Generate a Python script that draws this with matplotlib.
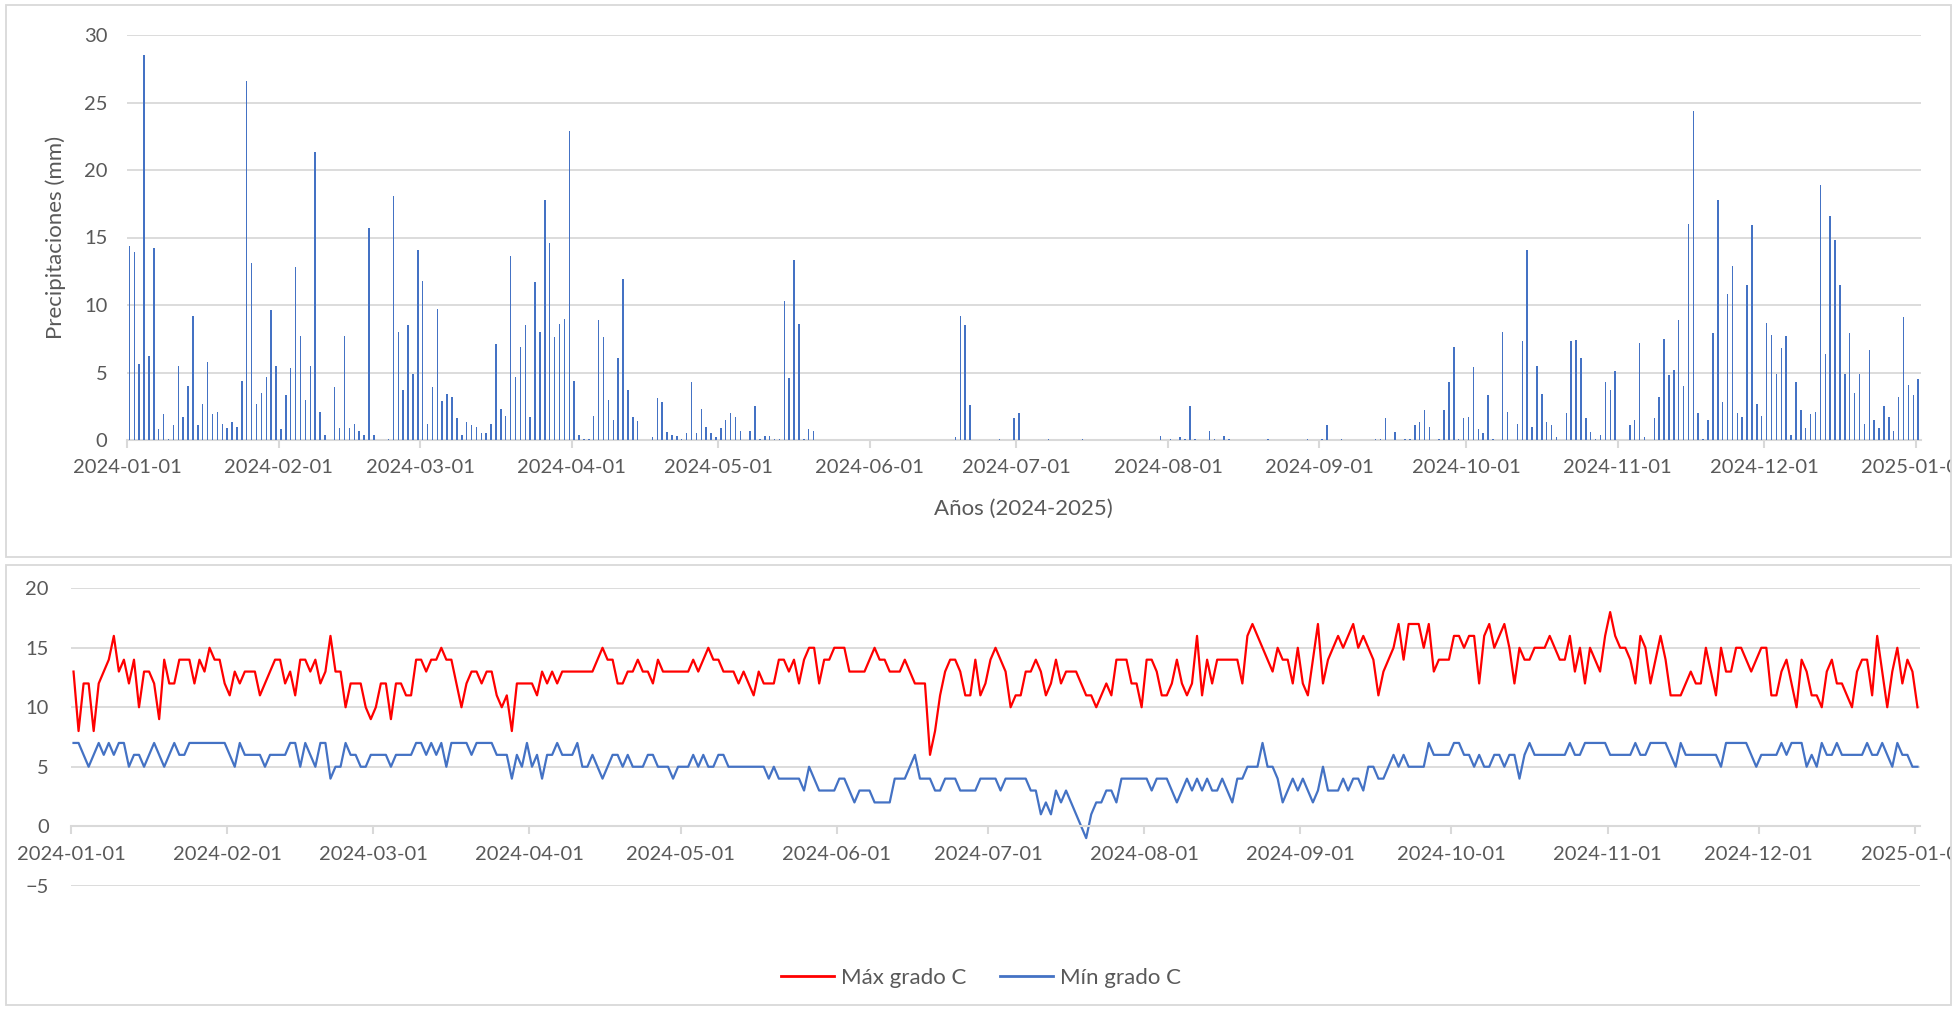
import matplotlib
matplotlib.use("Agg")
import matplotlib.pyplot as plt
import matplotlib.dates as mdates
import pandas as pd
from matplotlib.patches import Rectangle
from matplotlib.lines import Line2D
from matplotlib.transforms import Bbox, TransformedBbox

# datos diarios 2024-01-01 .. 2025-01-01
fechas = pd.date_range("2024-01-01", "2025-01-01", freq="D")

precip = [
    14.4, 13.9, 5.6, 28.5, 6.2, 14.2, 0.8, 1.9, 0.05, 1.1, 5.5, 1.7, 4.0, 9.2, 1.1, 2.7, 5.8, 1.9, 2.1, 1.2, 0.9, 1.3, 1.0, 4.4, 26.6, 13.1, 2.7, 3.5, 4.7, 9.6, 5.5,
    0.8, 3.3, 5.3, 12.8, 7.7, 3.0, 5.5, 21.3, 2.1, 0.4, 0, 3.9, 0.9, 7.7, 0.9, 1.2, 0.7, 0.4, 15.7, 0.4, 0, 0, 0.05, 18.1, 8.0, 3.7, 8.5, 4.9, 14.1,
    11.8, 1.2, 3.9, 9.7, 2.9, 3.4, 3.2, 1.6, 0.4, 1.3, 1.1, 1.0, 0.5, 0.5, 1.2, 7.1, 2.3, 1.8, 13.6, 4.7, 6.9, 8.5, 1.7, 11.7, 8.0, 17.8, 14.6, 7.6, 8.6, 9.0, 22.9,
    4.4, 0.4, 0.1, 0.05, 1.8, 8.9, 7.6, 3.0, 1.5, 6.1, 11.95, 3.7, 1.7, 1.4, 0, 0, 0.2, 3.1, 2.8, 0.6, 0.4, 0.3, 0.05, 0.5, 4.3, 0.5, 2.3, 1.0, 0.5, 0.2,
    0.9, 1.5, 2.0, 1.7, 0.7, 0, 0.7, 2.5, 0.1, 0.3, 0.3, 0.05, 0.1, 10.3, 4.6, 13.3, 8.6, 0.1, 0.8, 0.7, 0, 0, 0, 0, 0, 0, 0, 0, 0, 0, 0,
    0, 0, 0, 0, 0, 0, 0, 0, 0, 0, 0, 0, 0, 0, 0, 0, 0, 0.2, 9.2, 8.5, 2.6, 0, 0, 0, 0, 0, 0.05, 0, 0, 1.6,
    2.0, 0, 0, 0, 0, 0, 0.05, 0, 0, 0, 0, 0, 0, 0.05, 0, 0, 0, 0, 0, 0, 0, 0, 0, 0, 0, 0, 0, 0, 0, 0.3, 0,
    0.1, 0, 0.2, 0.05, 2.5, 0.1, 0, 0, 0.7, 0.05, 0, 0.3, 0.05, 0, 0, 0, 0, 0, 0, 0, 0.05, 0, 0, 0, 0, 0, 0, 0, 0.05, 0, 0,
    0.1, 1.1, 0, 0, 0.05, 0, 0, 0, 0, 0, 0, 0.05, 0.05, 1.6, 0, 0.6, 0, 0.1, 0.1, 1.1, 1.3, 2.2, 1.0, 0, 0.05, 2.2, 4.3, 6.9, 0.05, 1.6,
    1.7, 5.4, 0.8, 0.5, 3.3, 0.05, 0, 8.0, 2.1, 0, 1.2, 7.3, 14.1, 1.0, 5.5, 3.4, 1.3, 1.1, 0.2, 0, 2.0, 7.3, 7.4, 6.1, 1.6, 0.6, 0.1, 0.4, 4.3, 3.7, 5.1,
    0, 0, 1.1, 1.5, 7.2, 0.2, 0, 1.6, 3.2, 7.5, 4.8, 5.2, 8.9, 4.0, 16.0, 24.4, 2.0, 0.05, 1.5, 7.9, 17.8, 2.8, 10.8, 12.9, 2.0, 1.7, 11.5, 15.95, 2.7, 1.8,
    8.7, 7.8, 4.9, 6.8, 7.7, 0.4, 4.3, 2.2, 0.9, 1.9, 2.1, 18.9, 6.4, 16.6, 14.8, 11.5, 4.9, 7.9, 3.5, 4.9, 1.2, 6.7, 1.5, 0.9, 2.5, 1.7, 0.7, 3.2, 9.1, 4.1, 3.3,
    4.5,
]

tmax = [
    13, 8, 12, 12, 8, 12, 13, 14, 16, 13, 14, 12, 14, 10, 13, 13, 12, 9, 14, 12, 12, 14, 14, 14, 12, 14, 13, 15, 14, 14, 12,
    11, 13, 12, 13, 13, 13, 11, 12, 13, 14, 14, 12, 13, 11, 14, 14, 13, 14, 12, 13, 16, 13, 13, 10, 12, 12, 12, 10, 9,
    10, 12, 12, 9, 12, 12, 11, 11, 14, 14, 13, 14, 14, 15, 14, 14, 12, 10, 12, 13, 13, 12, 13, 13, 11, 10, 11, 8, 12, 12, 12,
    12, 11, 13, 12, 13, 12, 13, 13, 13, 13, 13, 13, 13, 14, 15, 14, 14, 12, 12, 13, 13, 14, 13, 13, 12, 14, 13, 13, 13, 13,
    13, 13, 14, 13, 14, 15, 14, 14, 13, 13, 13, 12, 13, 12, 11, 13, 12, 12, 12, 14, 14, 13, 14, 12, 14, 15, 15, 12, 14, 14, 15,
    15, 15, 13, 13, 13, 13, 14, 15, 14, 14, 13, 13, 13, 14, 13, 12, 12, 12, 6, 8, 11, 13, 14, 14, 13, 11, 11, 14, 11, 12,
    14, 15, 14, 13, 10, 11, 11, 13, 13, 14, 13, 11, 12, 14, 12, 13, 13, 13, 12, 11, 11, 10, 11, 12, 11, 14, 14, 14, 12, 12, 10,
    14, 14, 13, 11, 11, 12, 14, 12, 11, 12, 16, 11, 14, 12, 14, 14, 14, 14, 14, 12, 16, 17, 16, 15, 14, 13, 15, 14, 14, 12, 15,
    12, 11, 14, 17, 12, 14, 15, 16, 15, 16, 17, 15, 16, 15, 14, 11, 13, 14, 15, 17, 14, 17, 17, 17, 15, 17, 13, 14, 14, 14,
    16, 16, 15, 16, 16, 12, 16, 17, 15, 16, 17, 15, 12, 15, 14, 14, 15, 15, 15, 16, 15, 14, 14, 16, 13, 15, 12, 15, 14, 13, 16,
    18, 16, 15, 15, 14, 12, 16, 15, 12, 14, 16, 14, 11, 11, 11, 12, 13, 12, 12, 15, 13, 11, 15, 13, 13, 15, 15, 14, 13, 14,
    15, 15, 11, 11, 13, 14, 12, 10, 14, 13, 11, 11, 10, 13, 14, 12, 12, 11, 10, 13, 14, 14, 11, 16, 13, 10, 13, 15, 12, 14, 13,
    10,
]

tmin = [
    7, 7, 6, 5, 6, 7, 6, 7, 6, 7, 7, 5, 6, 6, 5, 6, 7, 6, 5, 6, 7, 6, 6, 7, 7, 7, 7, 7, 7, 7, 7,
    6, 5, 7, 6, 6, 6, 6, 5, 6, 6, 6, 6, 7, 7, 5, 7, 6, 5, 7, 7, 4, 5, 5, 7, 6, 6, 5, 5, 6,
    6, 6, 6, 5, 6, 6, 6, 6, 7, 7, 6, 7, 6, 7, 5, 7, 7, 7, 7, 6, 7, 7, 7, 7, 6, 6, 6, 4, 6, 5, 7,
    5, 6, 4, 6, 6, 7, 6, 6, 6, 7, 5, 5, 6, 5, 4, 5, 6, 6, 5, 6, 5, 5, 5, 6, 6, 5, 5, 5, 4, 5,
    5, 5, 6, 5, 6, 5, 5, 6, 6, 5, 5, 5, 5, 5, 5, 5, 5, 4, 5, 4, 4, 4, 4, 4, 3, 5, 4, 3, 3, 3, 3,
    4, 4, 3, 2, 3, 3, 3, 2, 2, 2, 2, 4, 4, 4, 5, 6, 4, 4, 4, 3, 3, 4, 4, 4, 3, 3, 3, 3, 4, 4,
    4, 4, 3, 4, 4, 4, 4, 4, 3, 3, 1, 2, 1, 3, 2, 3, 2, 1, 0, -1, 1, 2, 2, 3, 3, 2, 4, 4, 4, 4, 4,
    4, 3, 4, 4, 4, 3, 2, 3, 4, 3, 4, 3, 4, 3, 3, 4, 3, 2, 4, 4, 5, 5, 5, 7, 5, 5, 4, 2, 3, 4, 3,
    4, 3, 2, 3, 5, 3, 3, 3, 4, 3, 4, 4, 3, 5, 5, 4, 4, 5, 6, 5, 6, 5, 5, 5, 5, 7, 6, 6, 6, 6,
    7, 7, 6, 6, 5, 6, 5, 5, 6, 6, 5, 6, 6, 4, 6, 7, 6, 6, 6, 6, 6, 6, 6, 7, 6, 6, 7, 7, 7, 7, 7,
    6, 6, 6, 6, 6, 7, 6, 6, 7, 7, 7, 7, 6, 5, 7, 6, 6, 6, 6, 6, 6, 6, 5, 7, 7, 7, 7, 7, 6, 5,
    6, 6, 6, 6, 7, 6, 7, 7, 7, 5, 6, 5, 7, 6, 6, 7, 6, 6, 6, 6, 6, 7, 6, 6, 7, 6, 5, 7, 6, 6, 5,
    5,
]

meses = pd.date_range("2024-01-01", "2025-01-01", freq="MS")

GRIS = "#D9D9D9"
TEXTO = "#595959"
AZUL = "#4472C4"
W, H = 1959, 1009

plt.rcParams["font.family"] = ["Lato", "DejaVu Sans"]

fig = plt.figure(figsize=(W / 100, H / 100), dpi=100)

# marcos de los dos graficos
for y0, y1 in [(5, 557), (565, 1005)]:
    fig.add_artist(Rectangle((6 / W, 1 - y1 / H), (1951 - 6) / W, (y1 - y0) / H,
                             transform=fig.transFigure, fill=False, ec=GRIS, lw=1.3))

x = fechas + pd.Timedelta(hours=12)
xlim = (fechas[0], fechas[-1] + pd.Timedelta(days=1))

# ---- precipitaciones ----
ax1 = fig.add_axes([127 / W, 1 - 440 / H, (1920.6 - 127) / W, (440 - 35) / H])
ax1.bar(x, precip, width=0.3, color=AZUL, zorder=3)
ax1.set_xlim(*xlim)
ax1.set_ylim(0, 30)
ax1.set_yticks(range(0, 31, 5))
ax1.grid(axis="y", color=GRIS, lw=1.3)
ax1.set_axisbelow(True)
ax1.set_ylabel("Precipitaciones (mm)", fontsize=16, color=TEXTO)
ax1.yaxis.set_label_coords(-0.034, 0.5)
ax1.set_xlabel("Años (2024-2025)", fontsize=16, color=TEXTO)
ax1.xaxis.set_label_coords(0.5, -0.145)

# ---- temperaturas ----
ax2 = fig.add_axes([71 / W, 1 - 885.7 / H, (1920 - 71) / W, (885.7 - 588.3) / H])
ax2.plot(x, tmax, color="#FF0000", lw=1.6, solid_joinstyle="round", label="Máx grado C")
ax2.plot(x, tmin, color=AZUL, lw=1.6, solid_joinstyle="round", label="Mín grado C")
ax2.set_xlim(*xlim)
ax2.set_ylim(-5, 20)
ax2.set_yticks(range(-5, 21, 5))
ax2.grid(axis="y", color=GRIS, lw=1.3)
ax2.set_axisbelow(True)
ax2.spines["bottom"].set_position(("data", 0))

for ax, ypad in [(ax1, 14), (ax2, 16)]:
    for s in ["top", "right", "left"]:
        ax.spines[s].set_visible(False)
    ax.spines["bottom"].set_color(GRIS)
    ax.spines["bottom"].set_linewidth(1.5)
    ax.set_xticks(meses)
    ax.xaxis.set_major_formatter(mdates.DateFormatter("%Y-%m-%d"))
    ax.tick_params(axis="x", direction="out", length=6, width=1.5, color=GRIS,
                   labelsize=14.5, labelcolor=TEXTO, pad=8)
    ax.tick_params(axis="y", length=0, labelsize=14.5, labelcolor=TEXTO, pad=ypad)
    # la etiqueta final queda cortada por el marco
    clip = TransformedBbox(Bbox([[0, 0], [1951 / W, 1]]), fig.transFigure)
    for lab in ax.get_xticklabels():
        lab.set_clip_on(True)
        lab.set_clip_box(clip)

fig.legend(handles=[Line2D([], [], color="#FF0000", lw=2),
                    Line2D([], [], color=AZUL, lw=2)],
           labels=["Máx grado C", "Mín grado C"],
           loc="center", bbox_to_anchor=(981 / W, 1 - 978 / H), ncol=2,
           frameon=False, fontsize=16, labelcolor=TEXTO,
           handlelength=2.4, handletextpad=0.3, columnspacing=1.5)

fig.savefig("out.png", dpi=100)
